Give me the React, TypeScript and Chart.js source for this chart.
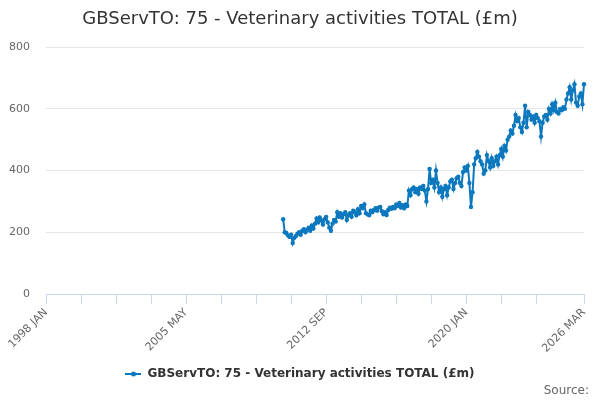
import React, { useEffect, useRef } from "react";
import { Chart, registerables } from "chart.js";

Chart.register(...registerables);

const TITLE = "GBServTO: 75 - Veterinary activities TOTAL (£m)";
const SERIES_NAME = "GBServTO: 75 - Veterinary activities TOTAL (£m)";
const MONTH_NAMES = ["JAN", "FEB", "MAR", "APR", "MAY", "JUN", "JUL", "AUG", "SEP", "OCT", "NOV", "DEC"];
const FIRST_YEAR = 1998;
const LAST_YEAR = 2026;
const LAST_MONTH_INDEX = 2; // MAR
const DATA_START = "2010 JUN";
const LABELED_TICKS = ["1998 JAN", "2005 MAY", "2012 SEP", "2020 JAN", "2026 MAR"];
const MINOR_TICK_STEP = 22;
const Y_TICKS = [0, 200, 400, 600, 800];

const VALUES = [
  242, 200, 198, 190, 185, 192, 165, 182, 188, 195, 200, 192,
  205, 210, 200, 208, 215, 205, 222, 212, 228, 245, 232, 248,
  238, 225, 242, 250, 232, 215, 205, 228, 240, 235, 265, 250,
  262, 248, 258, 265, 240, 255, 262, 250, 270, 265, 255, 275,
  262, 285, 278, 290, 262, 258, 255, 270, 265, 272, 278, 270,
  280, 282, 268, 258, 265, 256, 272, 280, 276, 282, 278, 290,
  285, 295, 280, 288, 278, 290, 285, 335, 320, 340, 345, 330,
  340, 325, 345, 340, 350, 335, 300, 340, 405, 360, 370, 345,
  400, 360, 330, 345, 315, 340, 350, 320, 345, 365, 370, 340,
  360, 375, 380, 360, 350, 395, 410, 400, 415, 360, 282, 330,
  420, 440, 460, 445, 430, 420, 390, 400, 450, 430, 410, 440,
  415, 430, 445, 420, 450, 470, 445, 480, 465, 500, 510, 530,
  520, 545, 580, 560, 570, 540, 525, 555, 610, 540, 590, 580,
  565, 575, 555, 580, 570, 560, 510, 555, 575, 580, 565, 600,
  585, 615, 595, 620, 590, 585, 600, 595, 605, 600, 630, 650,
  670, 630, 660, 680, 620, 610, 640, 650, 615, 680,
];

const LINE_COLOR = "#0b78be";

function buildCategories(): string[] {
  const out: string[] = [];
  for (let y = FIRST_YEAR; y <= LAST_YEAR; y++) {
    for (let m = 0; m < 12; m++) {
      if (y === LAST_YEAR && m > LAST_MONTH_INDEX) break;
      out.push(`${y} ${MONTH_NAMES[m]}`);
    }
  }
  return out;
}

export default function App() {
  const canvasRef = useRef<HTMLCanvasElement | null>(null);

  useEffect(() => {
    document.body.style.margin = "0";
    const canvas = canvasRef.current;
    if (!canvas) return;
    const categories = buildCategories();
    const startIdx = categories.indexOf(DATA_START);
    const data: (number | null)[] = categories.map((_, i) => {
      const k = i - startIdx;
      return k >= 0 && k < VALUES.length ? VALUES[k] : null;
    });
    const lastIdx = categories.length - 1;
    const lastMinor = Math.floor((lastIdx - 20) / MINOR_TICK_STEP) * MINOR_TICK_STEP;
    const isTick = (i: number) => (i % MINOR_TICK_STEP === 0 && i <= lastMinor) || i === lastIdx;

    const legendIcon = document.createElement("canvas");
    legendIcon.width = 16;
    legendIcon.height = 6;
    const ictx = legendIcon.getContext("2d")!;
    ictx.strokeStyle = LINE_COLOR;
    ictx.lineWidth = 2;
    ictx.beginPath();
    ictx.moveTo(0, 3);
    ictx.lineTo(16, 3);
    ictx.stroke();
    ictx.fillStyle = LINE_COLOR;
    ictx.beginPath();
    ictx.arc(8, 3, 2.5, 0, Math.PI * 2);
    ictx.fill();

    Chart.defaults.font.family = "'DejaVu Sans', sans-serif";

    const chart = new Chart(canvas, {
      type: "line",
      data: {
        labels: categories,
        datasets: [
          {
            label: SERIES_NAME,
            data,
            borderColor: LINE_COLOR,
            backgroundColor: LINE_COLOR,
            borderWidth: 2,
            pointRadius: 2.2,
            pointBorderWidth: 0,
            pointBackgroundColor: LINE_COLOR,
            tension: 0,
            spanGaps: false,
          },
        ],
      },
      options: {
        responsive: false,
        animation: false,
        events: [],
        layout: { padding: { left: 0, right: 0, top: 0, bottom: 10 } },
        plugins: {
          title: {
            display: true,
            text: TITLE,
            color: "#333333",
            font: { size: 18, weight: "normal" },
            padding: { top: 9, bottom: 16.5 },
          },
          legend: {
            display: true,
            position: "bottom",
            labels: {
              color: "#333333",
              font: { size: 12, weight: "bold" },
              usePointStyle: true,
              pointStyleWidth: 16,
              padding: 10,
              generateLabels: (c: any) => {
                const items = Chart.defaults.plugins.legend.labels.generateLabels(c);
                return items.map((it: any) => ({ ...it, pointStyle: legendIcon }));
              },
            },
          },
          tooltip: { enabled: false },
        },
        scales: {
          x: {
            type: "category",
            offset: false,
            border: { display: true, color: "#ccd6eb", width: 1 },
            grid: {
              display: true,
              drawOnChartArea: false,
              drawTicks: true,
              tickLength: 10,
              color: (ctx: any) => (isTick(ctx.index) ? "#ccd6eb" : "rgba(0,0,0,0)"),
            },
            ticks: {
              autoSkip: false,
              maxRotation: 45,
              minRotation: 45,
              padding: 2,
              color: "#666666",
              font: { size: 11 },
              callback: (_v: any, i: number) => {
                const lab = categories[i];
                return LABELED_TICKS.includes(lab) ? lab : "";
              },
            },
            afterFit: (scale: any) => {
              scale.height = 64;
              scale.paddingRight = 16;
            },
          },
          y: {
            min: 0,
            max: 800,
            border: { display: false },
            grid: { color: "#e6e6e6", drawTicks: false },
            ticks: {
              stepSize: 200,
              padding: 16,
              color: "#666666",
              font: { size: 11 },
            },
            afterBuildTicks: (scale: any) => {
              scale.ticks = Y_TICKS.map((v) => ({ value: v }));
            },
            afterFit: (scale: any) => {
              scale.width = 46;
            },
          },
        },
      },
    } as any);

    return () => {
      chart.destroy();
    };
  }, []);

  return (
    <div style={{ position: "relative", width: 600, height: 400 }}>
      <canvas ref={canvasRef} width={600} height={400} style={{ display: "block" }} />
      <div
        style={{
          position: "absolute",
          right: 11,
          top: 383,
          fontFamily: "'DejaVu Sans', sans-serif",
          fontSize: 12,
          color: "#666666",
        }}
      >
        Source:
      </div>
    </div>
  );
}
